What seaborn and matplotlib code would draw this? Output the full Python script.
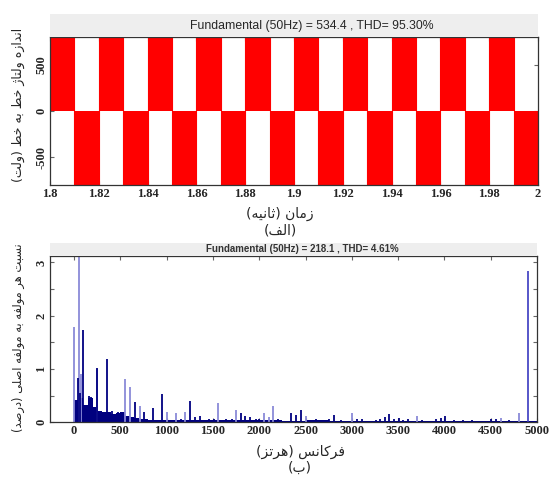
import numpy as np
import pandas as pd
import matplotlib
matplotlib.use("Agg")
import matplotlib.pyplot as plt
from matplotlib.patches import Rectangle
import seaborn as sns

# ---------------- data ----------------
# (a) line-to-line voltage, square wave switching instants and levels
switch_times = [1.80, 1.81, 1.82, 1.83, 1.84, 1.85, 1.86, 1.87, 1.88, 1.89,
                1.90, 1.91, 1.92, 1.93, 1.94, 1.95, 1.96, 1.97, 1.98, 1.99, 2.00]
voltage_levels = [800, -800, 800, -800, 800, -800, 800, -800, 800, -800,
                  800, -800, 800, -800, 800, -800, 800, -800, 800, -800, -800]
time_ticks = [1.80, 1.82, 1.84, 1.86, 1.88, 1.90, 1.92, 1.94, 1.96, 1.98, 2.00]
time_labels = ["1.8", "1.82", "1.84", "1.86", "1.88", "1.9", "1.92", "1.94", "1.96", "1.98", "2"]
volt_ticks = [-500, 0, 500]
title_a = "Fundamental (50Hz) = 534.4 , THD= 95.30%"

# (b) harmonic spectrum
floor_freq = [0, 50, 100, 150, 200, 250, 300, 350, 400, 450, 500, 550, 600, 650,
              700, 750, 800, 850, 900, 950, 1000, 1250, 1500, 1750, 2000, 2250,
              2500, 2750, 3000, 3250, 3500, 3750, 4000, 4250, 4500, 4750]
floor_mag = [0.42, 0.45, 0.33, 0.45, 0.28, 0.22, 0.20, 0.20, 0.15, 0.17, 0.20, 0.12,
             0.10, 0.08, 0.07, 0.07, 0.05, 0.05, 0.04, 0.04, 0.04, 0.04, 0.035, 0.035,
             0.035, 0.03, 0.035, 0.03, 0.03, 0.03, 0.03, 0.03, 0.03, 0.03, 0.03, 0.03]
dark_freq = [40, 60, 100, 120, 165, 180, 250, 353, 408, 470, 653, 760, 851, 955,
             1155, 1255, 1309, 1356, 1453, 1507, 1645, 1706, 1804, 1850, 1904, 1970,
             2000, 2200, 2348, 2402, 2453, 2608, 2752, 2806, 2878, 3059, 3106, 3257,
             3303, 3354, 3401, 3455, 3509, 3556, 3606, 3762, 3906, 3960, 4003, 4100,
             4200, 4300, 4501, 4555, 4700]
dark_mag = [0.83, 0.55, 1.73, 0.30, 0.50, 0.48, 1.02, 1.18, 0.22, 0.20, 0.38, 0.20,
            0.26, 0.53, 0.06, 0.40, 0.10, 0.11, 0.07, 0.07, 0.06, 0.07, 0.18, 0.12,
            0.10, 0.07, 0.07, 0.07, 0.17, 0.13, 0.23, 0.07, 0.07, 0.14, 0.04, 0.07,
            0.07, 0.05, 0.07, 0.10, 0.16, 0.07, 0.08, 0.05, 0.07, 0.05, 0.07, 0.08,
            0.11, 0.04, 0.04, 0.04, 0.07, 0.07, 0.04]
light_freq = [0, 50, 75, 250, 555, 606, 707, 1003, 1104, 1201, 1555, 1753, 2056,
              2102, 2153, 2507, 3005, 3708, 4609, 4807]
light_mag = [1.78, 3.20, 0.90, 1.00, 0.82, 0.66, 0.30, 0.20, 0.18, 0.20, 0.37, 0.24,
             0.18, 0.10, 0.31, 0.12, 0.18, 0.12, 0.08, 0.18]
carrier_freq = [4905]
carrier_mag = [2.83]
freq_ticks = [0, 500, 1000, 1500, 2000, 2500, 3000, 3500, 4000, 4500, 5000]
mag_ticks = [0, 0.5, 1, 1.5, 2, 2.5, 3]
title_b = "Fundamental (50Hz) = 218.1 , THD= 4.61%"

xlabel_a = "زمان (ثانیه)"
caption_a = "(الف)"
ylabel_a = "اندازه ولتاژ خط به خط (ولت)"
xlabel_b = "فرکانس (هرتز)"
caption_b = "(ب)"
ylabel_b = "نسبت هر مولفه به مولفه اصلی (درصد)"

# ---------------- Persian shaping (contextual forms + RTL order) ----------------
FORMS = {  # isolated, final, initial, medial
    'ا': ('\uFE8D', '\uFE8E', None, None),
    'ب': ('\uFE8F', '\uFE90', '\uFE91', '\uFE92'),
    'ت': ('\uFE95', '\uFE96', '\uFE97', '\uFE98'),
    'ث': ('\uFE99', '\uFE9A', '\uFE9B', '\uFE9C'),
    'خ': ('\uFEA5', '\uFEA6', '\uFEA7', '\uFEA8'),
    'د': ('\uFEA9', '\uFEAA', None, None),
    'ر': ('\uFEAD', '\uFEAE', None, None),
    'ز': ('\uFEAF', '\uFEB0', None, None),
    'ژ': ('\uFB8A', '\uFB8B', None, None),
    'س': ('\uFEB1', '\uFEB2', '\uFEB3', '\uFEB4'),
    'ص': ('\uFEB9', '\uFEBA', '\uFEBB', '\uFEBC'),
    'ط': ('\uFEC1', '\uFEC2', '\uFEC3', '\uFEC4'),
    'ف': ('\uFED1', '\uFED2', '\uFED3', '\uFED4'),
    'ک': ('\uFB8E', '\uFB8F', '\uFB90', '\uFB91'),
    'ل': ('\uFEDD', '\uFEDE', '\uFEDF', '\uFEE0'),
    'م': ('\uFEE1', '\uFEE2', '\uFEE3', '\uFEE4'),
    'ن': ('\uFEE5', '\uFEE6', '\uFEE7', '\uFEE8'),
    'ه': ('\uFEE9', '\uFEEA', '\uFEEB', '\uFEEC'),
    'و': ('\uFEED', '\uFEEE', None, None),
    'ی': ('\uFBFC', '\uFBFD', '\uFBFE', '\uFBFF'),
}


def shape(text):
    out = []
    n = len(text)
    for i, ch in enumerate(text):
        if ch not in FORMS:
            out.append(ch)
            continue
        f = FORMS[ch]
        prev = text[i - 1] if i > 0 else ''
        nxt = text[i + 1] if i + 1 < n else ''
        join_prev = prev in FORMS and FORMS[prev][2] is not None
        join_next = f[2] is not None and nxt in FORMS
        if join_prev and join_next:
            out.append(f[3])
        elif join_prev:
            out.append(f[1])
        elif join_next:
            out.append(f[2])
        else:
            out.append(f[0])
    mirror = {'(': ')', ')': '('}
    return ''.join(mirror.get(c, c) for c in reversed(out))


# ---------------- style ----------------
sns.set_style("white")
plt.rcParams['font.family'] = ['DejaVu Sans']

W, H = 550, 479
fig = plt.figure(figsize=(W / 100, H / 100), dpi=100)

tick_font = dict(family='Liberation Serif', weight='bold', size=9)
fa_font = dict(family='DejaVu Sans', size=10)


def fx(px):
    return px / W


def fy(py):
    return (H - py) / H


# ---------------- (a) waveform ----------------
ax1 = fig.add_axes([fx(50), fy(185), fx(488), 148 / H])
wave = pd.DataFrame({"t": switch_times, "v": voltage_levels})
ax1.fill_between(wave["t"], wave["v"], 0, step="post", color="#FF0000", linewidth=0)
sns.lineplot(data=wave, x="t", y="v", drawstyle="steps-post", color="#FF0000",
             linewidth=0.8, ax=ax1)
ax1.set_xlim(1.8, 2.0)
ax1.set_ylim(-800, 800)
ax1.set_xticks(time_ticks)
ax1.set_xticklabels(time_labels, **tick_font)
ax1.set_yticks(volt_ticks)
ax1.set_yticklabels([str(v) for v in volt_ticks], rotation=90, va='center', **tick_font)
ax1.set_xlabel("")
ax1.set_ylabel("")

fig.add_artist(Rectangle((fx(50), fy(37)), fx(488), 23 / H, transform=fig.transFigure,
                         facecolor='#EEEEEE', edgecolor='none'))
fig.text(fx(312), fy(25.5), title_a, ha='center', va='center',
         family='Liberation Sans', size=8.8)

# ---------------- (b) spectrum ----------------
ax2 = fig.add_axes([fx(50), fy(422.3), fx(487), 166.3 / H])
edges = floor_freq + [5000]
sns.histplot(x=floor_freq, weights=floor_mag, bins=edges, element="step", fill=True,
             color="#00007F", alpha=1.0, linewidth=0, ax=ax2)
ax2.vlines(light_freq, 0, light_mag, color="#8A8AD8", linewidth=1.3)
ax2.vlines(dark_freq, 0, dark_mag, color="#000080", linewidth=1.3)
ax2.vlines(carrier_freq, 0, carrier_mag, color="#3A3AC0", linewidth=1.2)
ax2.set_xlim(-260, 5000)
ax2.set_ylim(0, 3.12)
ax2.set_xticks(freq_ticks)
ax2.set_xticklabels([str(v) for v in freq_ticks], **tick_font)
ax2.set_yticks(mag_ticks)
ax2.set_yticklabels([str(int(v)) if float(v).is_integer() else "" for v in mag_ticks],
                    rotation=90, va='center', **tick_font)
ax2.set_xlabel("")
ax2.set_ylabel("")

fig.add_artist(Rectangle((fx(50), fy(256)), fx(487), 13 / H, transform=fig.transFigure,
                         facecolor='#EEEEEE', edgecolor='none'))
fig.text(fx(302), fy(249.5), title_b, ha='center', va='center',
         family='Liberation Sans', size=7, weight='bold', color='#333333')

for ax in (ax1, ax2):
    ax.tick_params(direction='in', length=3, width=0.8, color='#666666',
                   top=True, right=True, bottom=True, left=True, pad=2)
    for s in ax.spines.values():
        s.set_color('#333333')
        s.set_linewidth(0.9)
    ax.set_facecolor('white')

# ---------------- Persian labels ----------------
fig.text(fx(280), fy(214), shape(xlabel_a), ha='center', va='center', **fa_font)
fig.text(fx(280), fy(230), shape(caption_a), ha='center', va='center', **fa_font)
fig.text(fx(18), fy(105), shape(ylabel_a), ha='center', va='center', rotation=90,
         family='DejaVu Sans', size=9)
fig.text(fx(300), fy(452), shape(xlabel_b), ha='center', va='center', **fa_font)
fig.text(fx(300), fy(468), shape(caption_b), ha='center', va='center', **fa_font)
fig.text(fx(18), fy(338), shape(ylabel_b), ha='center', va='center', rotation=90,
         family='DejaVu Sans', size=8.3)

fig.savefig("out.png", dpi=100)
